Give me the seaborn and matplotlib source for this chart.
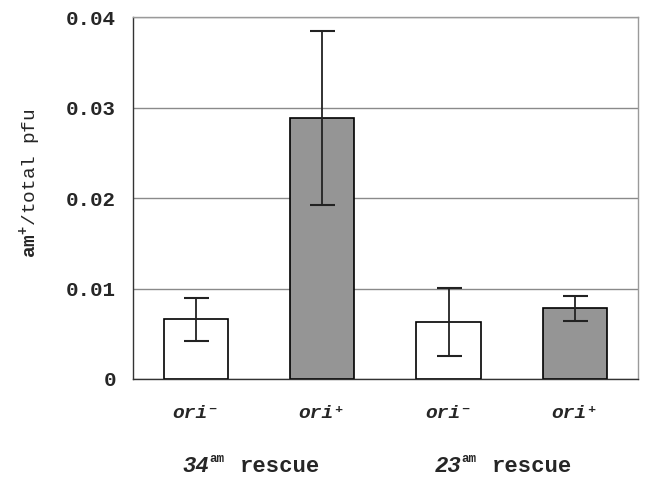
import numpy as np
import pandas as pd
import matplotlib
matplotlib.use("Agg")
import matplotlib.pyplot as plt
import seaborn as sns

# values
conditions = ["34 ori-", "34 ori+", "23 ori-", "23 ori+"]
tick_labels = ["ori\u207b", "ori\u207a", "ori\u207b", "ori\u207a"]
ratio = [0.0066, 0.0288, 0.0063, 0.0078]
err_low = [0.0042, 0.0192, 0.0025, 0.0064]
err_high = [0.0089, 0.0384, 0.0101, 0.0092]
group_genes = ["34", "23"]
bar_colors = ["white", "#959595", "white", "#959595"]

df = pd.DataFrame({"condition": conditions, "ratio": ratio})

sns.set_style("white")
plt.rcParams["font.family"] = ["Liberation Mono", "DejaVu Sans Mono", "DejaVu Sans"]
plt.rcParams["font.weight"] = "bold"
plt.rcParams["mathtext.fontset"] = "custom"
plt.rcParams["mathtext.rm"] = "Liberation Mono:bold"
plt.rcParams["mathtext.bf"] = "Liberation Mono:bold"

fig = plt.figure(figsize=(6.45, 4.82), dpi=100)
ax = fig.add_axes([0.206, 0.2137, 0.783, 0.751])

sns.barplot(data=df, x="condition", y="ratio", hue="condition",
            palette=bar_colors, edgecolor="black", linewidth=1.2,
            width=0.51, legend=False, errorbar=None, ax=ax, zorder=2)

# asymmetric error bars
pos = np.arange(len(conditions))
vals = np.array(ratio)
yerr = np.vstack([vals - np.array(err_low), np.array(err_high) - vals])
ax.errorbar(pos, vals, yerr=yerr, fmt="none", ecolor="#222222",
            elinewidth=1.3, capsize=9, capthick=1.5, zorder=3)

ax.set_ylim(0, 0.04)
ax.set_xlim(-0.5, 3.5)
ax.set_yticks([0, 0.01, 0.02, 0.03, 0.04])
ax.set_yticklabels(["0", "0.01", "0.02", "0.03", "0.04"])
ax.yaxis.grid(True, color="#8a8a8a", linewidth=1.0, zorder=0)
ax.set_axisbelow(True)

ax.set_xticks(pos)
ax.set_xticklabels([])
ax.tick_params(axis="x", length=0)
ax.tick_params(axis="y", length=0, pad=12, labelsize=15)

# x tick labels on a shared baseline
for p, lab in zip(pos, tick_labels):
    ax.annotate(lab, xy=(p, 0), xycoords=("data", "axes fraction"),
                xytext=(0, -28), textcoords="offset points",
                ha="center", va="baseline", fontsize=14, fontstyle="italic")

ax.set_xlabel("")
ax.set_ylabel(r"$\mathrm{am}^{+}$/total pfu", fontsize=14)
ax.yaxis.set_label_coords(-0.175, 0.54)

for side in ["left", "bottom"]:
    ax.spines[side].set_color("#333333")
    ax.spines[side].set_linewidth(1.0)
for side in ["top", "right"]:
    ax.spines[side].set_color("#9a9a9a")
    ax.spines[side].set_linewidth(1.0)

# group labels: italic gene number, superscript "am", then "rescue"
for gi, gene in enumerate(group_genes):
    xc = (pos[2 * gi] + pos[2 * gi + 1]) / 2
    base = dict(xy=(xc, 0), xycoords=("data", "axes fraction"),
                textcoords="offset points", va="baseline")
    ax.annotate(gene, xytext=(-36, -67), ha="right", fontsize=16,
                fontstyle="italic", **base)
    ax.annotate("am", xytext=(-36, -60), ha="left", fontsize=9, **base)
    ax.annotate("rescue", xytext=(-14, -67), ha="left", fontsize=16, **base)

fig.savefig("out.png", dpi=100)
